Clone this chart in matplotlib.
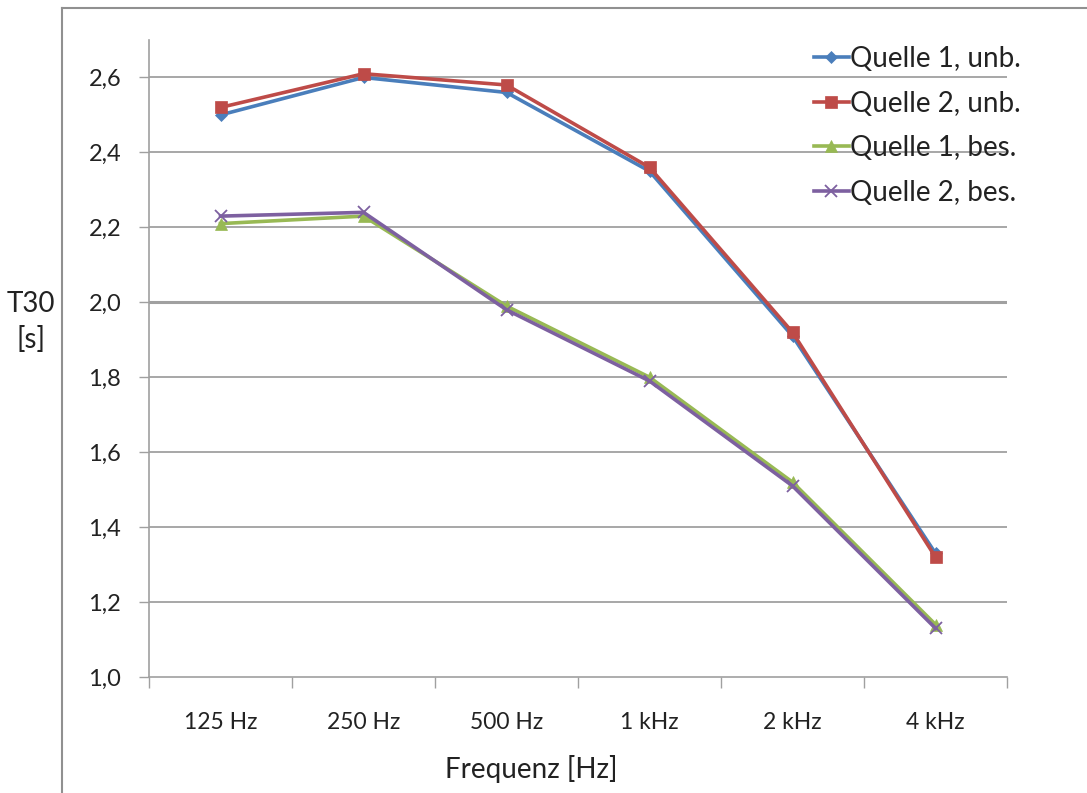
import matplotlib.pyplot as plt
import matplotlib.ticker as mticker
from matplotlib.lines import Line2D
import numpy as np

plt.rcParams['font.family'] = ['Lato', 'DejaVu Sans']

# Daten
frequenzen = ["125 Hz", "250 Hz", "500 Hz", "1 kHz", "2 kHz", "4 kHz"]
q1_unb = [2.50, 2.60, 2.56, 2.35, 1.91, 1.33]
q2_unb = [2.52, 2.61, 2.58, 2.36, 1.92, 1.32]
q1_bes = [2.21, 2.23, 1.99, 1.80, 1.52, 1.14]
q2_bes = [2.23, 2.24, 1.98, 1.79, 1.51, 1.13]
namen = ["Quelle 1, unb.", "Quelle 2, unb.", "Quelle 1, bes.", "Quelle 2, bes."]

W, H = 1087, 793
fig = plt.figure(figsize=(W / 100, H / 100), dpi=100)
ax = fig.add_axes([149 / W, 1 - 677 / H, (1007 - 149) / W, (677 - 40) / H])

x = np.arange(len(frequenzen))
reihen = [q1_unb, q2_unb, q1_bes, q2_bes]
farben = ["#4A7EBB", "#BE4B48", "#98B954", "#7D60A0"]
marker = ["D", "s", "^", "x"]
msizes = [6, 9, 8, 9]

for werte, f, m, ms, name in zip(reihen, farben, marker, msizes, namen):
    ax.plot(x, werte, color=f, lw=2.6, marker=m, markersize=ms,
            markeredgewidth=1.3 if m == "x" else 0.5, label=name, zorder=3)

ax.set_xlim(-0.5, len(frequenzen) - 0.5)
ax.set_ylim(1.0, 2.7)

# Gitterlinien
for yv in np.arange(1.2, 2.61, 0.2):
    ax.axhline(yv, color="#A0A0A0", lw=2.2 if abs(yv - 2.0) < 1e-6 else 1.3, zorder=1)

ax.set_yticks(np.arange(1.0, 2.61, 0.2))
ax.yaxis.set_major_formatter(mticker.FuncFormatter(lambda v, p: f"{v:.1f}".replace(".", ",")))
ax.set_xticks(x)
ax.set_xticklabels(frequenzen)
ax.set_xticks(np.arange(-0.5, len(frequenzen)), minor=True)
ax.tick_params(axis="x", which="major", length=0, pad=25, labelsize=16.5, colors="#222222")
ax.tick_params(axis="x", which="minor", length=8, width=1, color="#A0A0A0")
ax.tick_params(axis="y", length=7, width=1, color="#A0A0A0", labelsize=17,
               labelcolor="#222222", pad=13)

for s in ["top", "right"]:
    ax.spines[s].set_visible(False)
for s in ["left", "bottom"]:
    ax.spines[s].set_color("#A0A0A0")
    ax.spines[s].set_linewidth(1.2)

fig.text(31 / W, 1 - 322 / H, "T30\n[s]", ha="center", va="center", fontsize=20,
         color="#222222", linespacing=1.45)
fig.text(531 / W, 1 - 769 / H, "Frequenz [Hz]", ha="center", va="center",
         fontsize=20, color="#222222")

fig.legend(loc="upper left", bbox_to_anchor=(814 / W, 1 - 46 / H), frameon=False,
           fontsize=20, handlelength=1.25, handletextpad=0.05, labelspacing=0.67,
           borderpad=0, borderaxespad=0, labelcolor="#222222")

# aeusserer Rahmen
fig.add_artist(Line2D([62 / W, 1], [1 - 8 / H, 1 - 8 / H], color="#909090", lw=1.5))
fig.add_artist(Line2D([62 / W, 62 / W], [0, 1 - 8 / H], color="#909090", lw=1.5))

fig.savefig("out.png", dpi=100)
